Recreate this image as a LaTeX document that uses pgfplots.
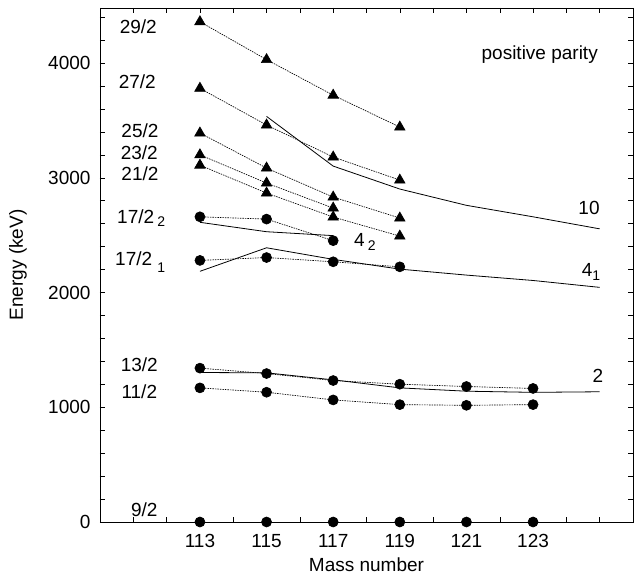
\documentclass[border=0pt]{standalone}
\usepackage{pgfplots}
\pgfplotsset{compat=1.18}
\usepackage{fontspec}
\setmainfont{Liberation Sans}

\begin{document}
\begin{tikzpicture}[font=\fontsize{19}{22}\selectfont]
\begin{axis}[
  scale only axis,
  width=533pt, height=514pt,
  xmin=110, xmax=126,
  ymin=0, ymax=4480,
  xtick={113,115,...,123},
  minor xtick={110,...,126},
  ytick={0,1000,...,4000},
  minor ytick={200,400,...,4400},
  major tick length=5pt, minor tick length=5pt,
  tick style={black, line width=0.5pt},
  /pgf/number format/assume math mode=true,
  /pgf/number format/1000 sep={},
  xticklabel style={yshift=-9pt},
  yticklabel style={xshift=-6pt},
  xlabel={Mass number},
  ylabel={Energy (keV)},
  every axis x label/.style={at={(axis description cs:0.5,0)}, yshift=-43pt, anchor=center},
  every axis y label/.style={at={(axis description cs:0,0.5)}, xshift=-82pt, rotate=90, anchor=center},
  axis line style={line width=0.6pt},
  clip=false,
  exp/.style={black, dash pattern=on 1.5pt off 1pt, line width=0.65pt},
  cir/.style={exp, mark=*, mark size=5pt, mark options={solid, fill=black}},
  tri/.style={exp, mark=triangle*, mark size=6pt, mark options={solid, fill=black}},
  th/.style={black, line width=0.8pt, no marks},
]
% experiment, circles
\addplot[cir] coordinates {(113,0) (115,0) (117,0) (119,0) (121,0) (123,0)};
\addplot[cir] coordinates {(113,1169) (115,1131) (117,1064) (119,1023) (121,1017) (123,1023)};
\addplot[cir] coordinates {(113,1341) (115,1294) (117,1233) (119,1201) (121,1181) (123,1164)};
\addplot[cir] coordinates {(113,2280) (115,2305) (117,2268) (119,2224)};
\addplot[cir] coordinates {(113,2660) (115,2640) (117,2452)};
% experiment, triangles
\addplot[tri] coordinates {(113,3110) (115,2867) (117,2658) (119,2492)};
\addplot[tri] coordinates {(113,3200) (115,2954) (117,2736)};
\addplot[tri] coordinates {(113,3390) (115,3085) (117,2832) (119,2649)};
\addplot[tri] coordinates {(113,3780) (115,3460) (117,3181) (119,2980)};
\addplot[tri] coordinates {(113,4360) (115,4030) (117,3720) (119,3442)};
% core states
\addplot[th] coordinates {(113,1303) (115,1300) (117,1239) (119,1169) (121,1140) (123,1130) (125,1135)};
\addplot[th] coordinates {(113,2185) (115,2390) (117,2289) (119,2204) (121,2152) (123,2105) (125,2045)};
\addplot[th] coordinates {(113,2612) (115,2530) (117,2496)};
\addplot[th] coordinates {(115,3535) (117,3102) (119,2902) (121,2760) (123,2660) (125,2555)};

\node at (axis cs:111.15,4314) {29/2};
\node at (axis cs:111.12,3834) {27/2};
\node at (axis cs:111.2,3407) {25/2};
\node at (axis cs:111.18,3216) {23/2};
\node at (axis cs:111.2,3033) {21/2};
\node[anchor=west, inner sep=0pt] at (axis cs:110.51,2649) {17/2\,\raisebox{-0.35ex}{\fontsize{14}{16}\selectfont 2}};
\node[anchor=west, inner sep=0pt] at (axis cs:110.45,2266) {17/2\;\raisebox{-0.7ex}{\fontsize{14}{16}\selectfont 1}};
\node at (axis cs:111.18,1368) {13/2};
\node at (axis cs:111.18,1133) {11/2};
\node at (axis cs:111.33,105) {9/2};
\node at (axis cs:117.95,2440) {4\,\raisebox{-0.4ex}{\fontsize{14}{16}\selectfont 2}};
\node at (axis cs:124.74,2179) {4\raisebox{-0.4ex}{\fontsize{14}{16}\selectfont 1}};
\node at (axis cs:124.68,2736) {10};
\node at (axis cs:124.95,1272) {2};
\node at (axis cs:123.2,4070) {positive parity};
\end{axis}
\path (current axis.south west) ++(-100pt,-56pt) (current axis.north east) ++(10pt,8pt);
\end{tikzpicture}
\end{document}
